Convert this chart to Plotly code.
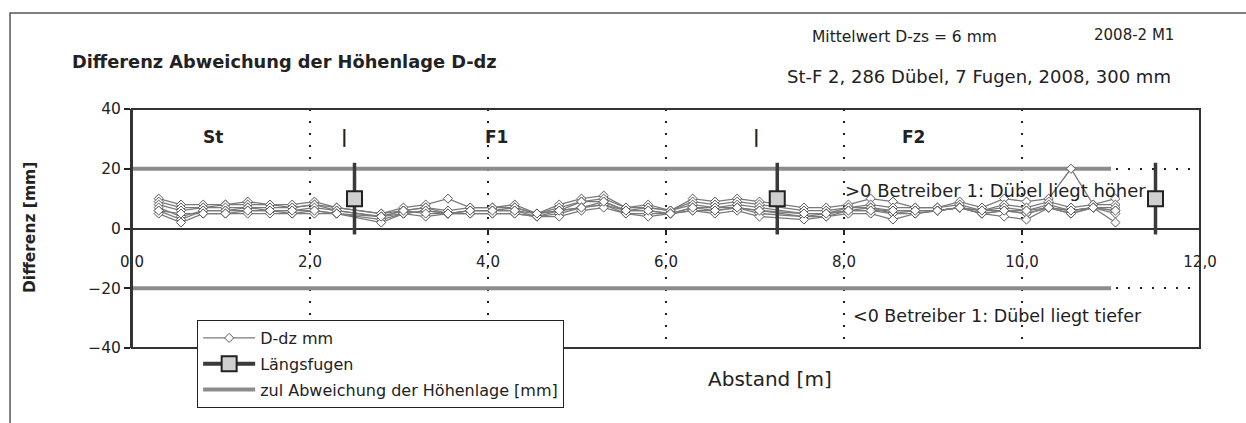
import plotly.graph_objects as go

# Abstand [m] of the Dübel positions along the slab
abstand = [0.3, 0.55, 0.8, 1.05, 1.3, 1.55, 1.8, 2.05, 2.3, 2.8, 3.05, 3.3, 3.55,
           3.8, 4.05, 4.3, 4.55, 4.8, 5.05, 5.3, 5.55, 5.8, 6.05, 6.3, 6.55, 6.8,
           7.05, 7.55, 7.8, 8.05, 8.3, 8.55, 8.8, 9.05, 9.3, 9.55, 9.8, 10.05,
           10.3, 10.55, 10.8, 11.05]

# D-dz [mm] per Dübel row (7 rows)
reihe_1 = [10, 8, 8, 8, 9, 8, 8, 9, 7, 5, 7, 8, 10, 7, 7, 8, 5, 8, 10, 11, 7, 8,
           6, 10, 9, 10, 9, 7, 7, 8, 10, 9, 7, 7, 9, 7, 10, 9, 10, 20, 8, 10]
reihe_2 = [9, 7, 7, 8, 8, 8, 7, 8, 7, 5, 6, 7, 6, 7, 7, 7, 5, 7, 9, 10, 7, 7,
           6, 9, 8, 9, 8, 6, 6, 7, 8, 7, 7, 7, 8, 6, 8, 7, 9, 7, 8, 8]
reihe_3 = [8, 6, 7, 7, 7, 7, 7, 8, 6, 4, 6, 7, 5, 6, 6, 7, 5, 6, 9, 9, 6, 7,
           6, 8, 7, 8, 7, 5, 5, 7, 7, 6, 6, 6, 7, 6, 7, 6, 8, 6, 7, 7]
reihe_4 = [7, 4, 6, 6, 7, 6, 6, 7, 6, 4, 5, 6, 5, 6, 6, 6, 4, 6, 7, 8, 6, 6,
           5, 7, 7, 7, 6, 4, 5, 6, 7, 5, 6, 6, 7, 5, 6, 5, 7, 6, 7, 6]
reihe_5 = [6, 3, 6, 6, 6, 6, 5, 6, 5, 3, 5, 6, 5, 5, 5, 5, 4, 5, 7, 8, 5, 5,
           5, 6, 6, 7, 5, 4, 4, 6, 6, 5, 5, 6, 7, 5, 6, 5, 7, 5, 7, 5]
reihe_6 = [5, 2, 5, 5, 5, 5, 5, 5, 5, 2, 5, 4, 5, 5, 5, 5, 4, 4, 6, 7, 5, 4,
           5, 6, 5, 6, 4, 3, 4, 5, 5, 3, 5, 6, 7, 5, 4, 3, 7, 5, 7, 2]
reihe_7 = [6, 5, 5, 5, 6, 6, 6, 6, 5, 4, 6, 5, 5, 6, 6, 6, 5, 6, 7, 9, 6, 6,
           5, 7, 6, 7, 6, 5, 5, 6, 6, 6, 6, 6, 7, 6, 6, 6, 7, 6, 7, 6]
reihen = [reihe_1, reihe_2, reihe_3, reihe_4, reihe_5, reihe_6, reihe_7]

# Längsfugen: position, mean offset and spread
fugen_x = [2.5, None, 7.25, None, 11.5]
fugen_y = [10, None, 10, None, 10]
fugen_err = [12, 0, 12, 0, 12]

# zulässige Abweichung der Höhenlage
zul_x = [0.0, 11.0]
zul_oben = [20, 20]
zul_unten = [-20, -20]

# section labels
abschnitt_namen = ["St", "F1", "F2"]
abschnitt_x = [0.91, 4.1, 8.78]
trenner_x = [2.39, 7.02]

FONT = "DejaVu Sans, Liberation Sans, Arial, sans-serif"
INK = "#222222"

fig = go.Figure()

for i, y in enumerate([zul_oben, zul_unten]):
    fig.add_trace(go.Scatter(
        x=zul_x, y=y, mode="lines",
        line=dict(color="#8c8c8c", width=4),
        name="zul Abweichung der Höhenlage [mm]",
        legendgroup="zul", showlegend=(i == 0), legendrank=3,
    ))

for i, y in enumerate(reihen):
    fig.add_trace(go.Scatter(
        x=abstand, y=y, mode="lines+markers",
        line=dict(color="#7a7a7a", width=1.3),
        marker=dict(symbol="diamond", size=7, color="white",
                    line=dict(color="#5a5a5a", width=1)),
        name="D-dz mm", legendgroup="ddz", showlegend=(i == 0), legendrank=1,
    ))

fig.add_trace(go.Scatter(
    x=fugen_x, y=fugen_y, mode="lines+markers", connectgaps=False,
    line=dict(color="#3a3a3a", width=4),
    marker=dict(symbol="square", size=15, color="#cfcfcf",
                line=dict(color=INK, width=2)),
    error_y=dict(type="data", array=fugen_err, visible=True,
                 color="#3a3a3a", thickness=3.5, width=0),
    name="Längsfugen", legendrank=2,
))

annotations = [
    dict(text="<b>Differenz Abweichung der Höhenlage D-dz</b>", xref="paper", yref="paper",
         x=-0.058, y=1.197, xanchor="left", yanchor="middle", font=dict(size=17.8)),
    dict(text="Mittelwert D-zs = 6 mm", xref="paper", yref="paper",
         x=0.635, y=1.301, xanchor="left", yanchor="middle", font=dict(size=15.5)),
    dict(text="2008-2 M1", xref="paper", yref="paper",
         x=0.899, y=1.31, xanchor="left", yanchor="middle", font=dict(size=15)),
    dict(text="St-F 2, 286 Dübel, 7 Fugen, 2008, 300 mm", xref="paper", yref="paper",
         x=0.611, y=1.134, xanchor="left", yanchor="middle", font=dict(size=18)),
    dict(text="<b>Differenz [mm]</b>", xref="paper", yref="paper", textangle=-90,
         x=-0.0955, y=0.502, xanchor="center", yanchor="middle", font=dict(size=15.5)),
    dict(text="Abstand [m]", xref="paper", yref="paper",
         x=0.597, y=-0.13, xanchor="center", yanchor="middle", font=dict(size=20)),
    dict(text=">0 Betreiber 1: Dübel liegt höher", xref="x", yref="y",
         x=7.99, y=12.7, xanchor="left", yanchor="middle", font=dict(size=18)),
    dict(text="<0 Betreiber 1: Dübel liegt tiefer", xref="x", yref="y",
         x=8.08, y=-29.3, xanchor="left", yanchor="middle", font=dict(size=17.5)),
]
for name, xpos in zip(abschnitt_namen, abschnitt_x):
    annotations.append(dict(text=f"<b>{name}</b>", xref="x", yref="y", x=xpos, y=30.7,
                            xanchor="center", yanchor="middle", font=dict(size=17)))
for xpos in trenner_x:
    annotations.append(dict(text="<b>|</b>", xref="x", yref="y", x=xpos, y=30.7,
                            xanchor="center", yanchor="middle", font=dict(size=18)))
for a in annotations:
    a["showarrow"] = False

fig.update_layout(
    width=1246, height=423,
    margin=dict(l=132, r=46, t=109, b=75),
    paper_bgcolor="white", plot_bgcolor="white",
    font=dict(family=FONT, color=INK),
    separators=",.",
    annotations=annotations,
    showlegend=True,
    legend=dict(x=0.061, y=0.117, xanchor="left", yanchor="top",
                bgcolor="white", bordercolor=INK, borderwidth=1,
                font=dict(size=16), itemwidth=52, tracegroupgap=2),
    shapes=[
        dict(type="rect", xref="paper", yref="paper", x0=0, x1=1, y0=0, y1=1,
             line=dict(color="#333333", width=2), layer="above"),
        dict(type="rect", xref="paper", yref="paper", x0=-0.1142, x1=1.06, y0=-0.35, y1=1.4017,
             line=dict(color="#555555", width=1.5), layer="below"),
    ],
)

fig.update_xaxes(
    range=[0, 12], tickvals=[0, 2, 4, 6, 8, 10, 12], tickformat=".1f",
    anchor="free", position=0.5,
    ticks="outside", ticklen=5, tickwidth=2, tickcolor=INK,
    ticklabelstandoff=14, tickfont=dict(size=15),
    showline=False, zeroline=False,
    showgrid=True, gridcolor=INK, gridwidth=2, griddash="2px,10px",
)
fig.update_yaxes(
    range=[-40, 40], tickvals=[-40, -20, 0, 20, 40],
    ticks="outside", ticklen=6, tickwidth=2, tickcolor=INK, tickfont=dict(size=15.5),
    showline=True, linecolor="#333333", linewidth=2,
    zeroline=True, zerolinecolor="#333333", zerolinewidth=2,
    showgrid=True, gridcolor=INK, gridwidth=2, griddash="2px,10px",
)

fig.write_html("out.html")
